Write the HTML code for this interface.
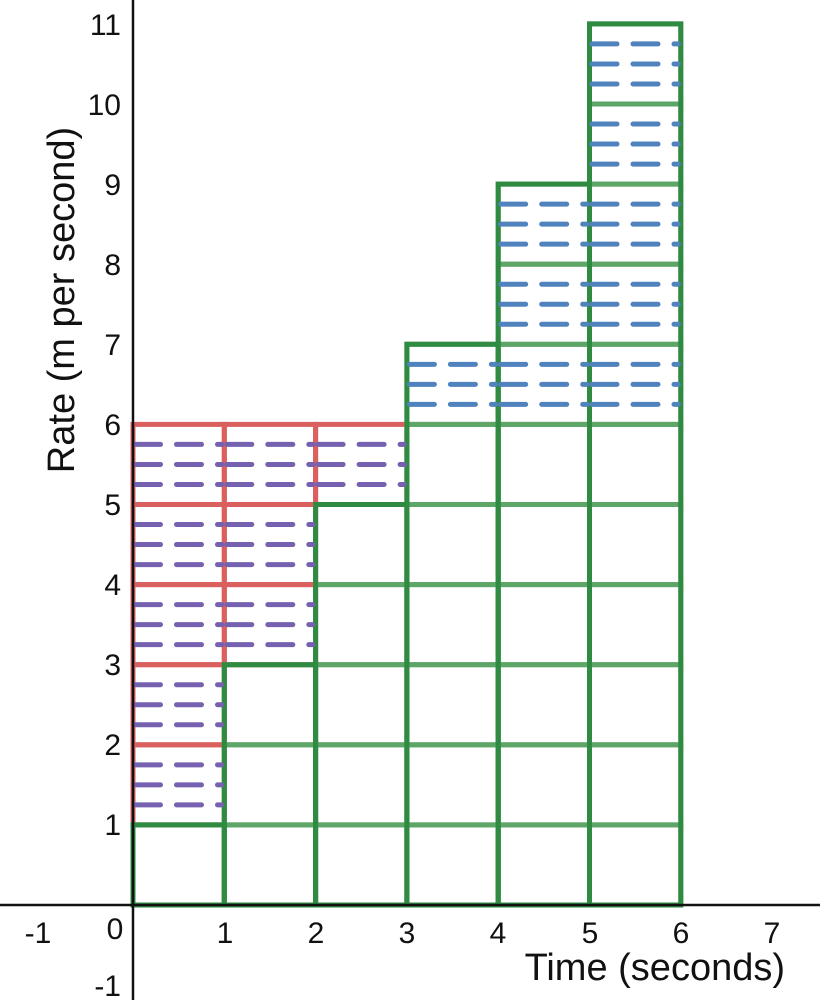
<!DOCTYPE html>
<html><head><meta charset="utf-8"><style>
html,body{margin:0;padding:0;background:#fff}
svg{display:block}
text{font-family:"Liberation Sans",sans-serif;fill:#111}
</style></head><body>
<svg id="s" width="820" height="1000" viewBox="0 0 820 1000" xmlns="http://www.w3.org/2000/svg">
<g id="g"></g>
<line x1="133" y1="0" x2="133" y2="1000" stroke="#111" stroke-width="2.5"/>
<line x1="0" y1="905" x2="820" y2="905" stroke="#111" stroke-width="2.5"/>
<g font-size="30" text-anchor="middle">
<text x="38" y="943">-1</text>
<text x="115" y="939">0</text>
<text x="225" y="943">1</text>
<text x="316" y="943">2</text>
<text x="407" y="943">3</text>
<text x="498" y="943">4</text>
<text x="590" y="943">5</text>
<text x="681" y="943">6</text>
<text x="772" y="943">7</text>
</g>
<g font-size="30" text-anchor="end">
<text x="121" y="996">-1</text>
<text x="121" y="835">1</text>
<text x="121" y="755">2</text>
<text x="121" y="675">3</text>
<text x="121" y="595">4</text>
<text x="121" y="515">5</text>
<text x="121" y="435">6</text>
<text x="121" y="355">7</text>
<text x="121" y="275">8</text>
<text x="121" y="195">9</text>
<text x="121" y="115">10</text>
<text x="121" y="35">11</text>
</g>
<text x="785" y="980" font-size="38" text-anchor="end">Time (seconds)</text>
<text transform="translate(74,300) rotate(-90)" font-size="38" text-anchor="middle">Rate (m per second)</text>
</svg>
<script>
var g=document.getElementById('g'),NS='http://www.w3.org/2000/svg';
function X(n){return 133+91.3*n}function Y(n){return 905-80.1*n}
function el(t,a){var e=document.createElementNS(NS,t);for(var k in a)e.setAttribute(k,a[k]);g.appendChild(e);}
function cell(c,r,col){el('rect',{x:X(c),y:Y(r+1),width:91.3,height:80.1,fill:'none',stroke:col,'stroke-width':5});}
function dash(c,r,col){for(var i=1;i<=3;i++){var y=Y(r+1)+80.1*i/4;el('line',{x1:X(c)+2.5,x2:X(c+1)-2.5,y1:y,y2:y,stroke:col,'stroke-width':5,'stroke-linecap':'round','stroke-dasharray':'25 16'});}}
var red='#d9605e',gr='#5ea668',gd='#2f8a42',pu='#7561b0',bl='#5083bd';
var R=[[0,1,6],[1,3,6],[2,5,6]];
R.forEach(function(a){for(var r=a[1];r<a[2];r++)cell(a[0],r,red);});
var G=[1,3,5,7,9,11];
G.forEach(function(h,c){for(var r=0;r<h;r++)cell(c,r,gr);});
G.forEach(function(h,c){el('path',{d:'M'+X(c)+' '+Y(0)+'V'+Y(h)+'H'+X(c+1)+'V'+Y(0)+'Z',fill:'none',stroke:gd,'stroke-width':5});});
R.forEach(function(a){for(var r=a[1];r<a[2];r++)dash(a[0],r,pu);});
for(var c=3;c<6;c++)for(var r=6;r<G[c];r++)dash(c,r,bl);
</script>
</body></html>
